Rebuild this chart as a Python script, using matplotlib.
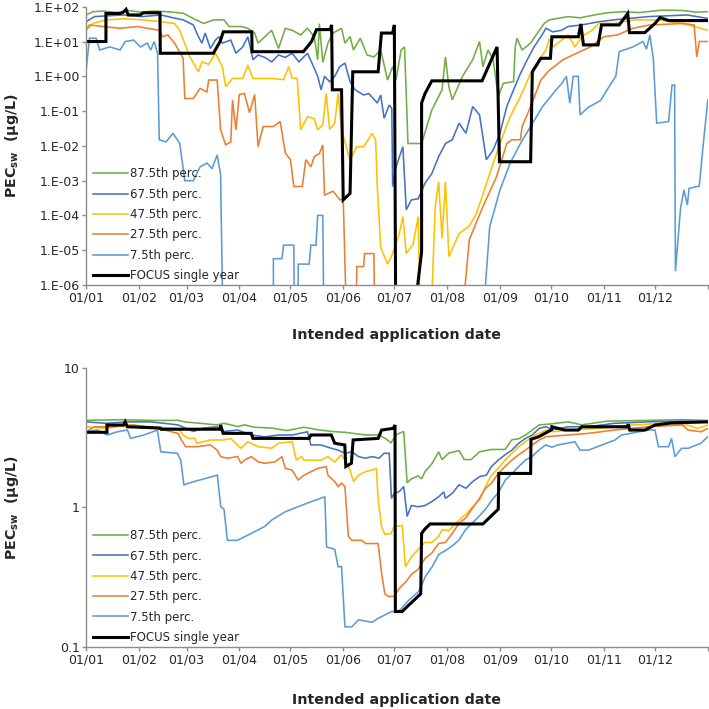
"""
PEC_sw versus intended application date, two log panels
"""

import matplotlib.pyplot as plt
from matplotlib.ticker import FixedLocator, FixedFormatter, NullLocator, FuncFormatter
import numpy as np

# ---------- data: (day of year, PEC_sw in ug/L) ----------
# values below the plotted range are given as 1e-9 (line leaves the axis)
labels = ['87.5th perc.', '67.5th perc.', '47.5th perc.', '27.5th perc.',
          '7.5th perc.', 'FOCUS single year']
colors = ['#70AD47', '#4472C4', '#FFC000', '#ED7D31', '#5B9BD5', 'black']

month_starts = [0, 31, 59, 90, 120, 151, 181, 212, 243, 273, 304, 334, 365]
month_labels = ['01/01', '01/02', '01/03', '01/04', '01/05', '01/06',
                '01/07', '01/08', '01/09', '01/10', '01/11', '01/12', '']

# top panel
top_p875 = [(0, 58), (4, 72), (10, 75), (18, 68), (25, 78), (32, 70), (40, 75),
            (48, 72), (57, 65), (63, 46), (69, 33), (75, 42), (81, 42), (84, 27),
            (91, 27), (95, 24), (99, 17.5), (101, 9), (105, 13.7), (109, 21),
            (113, 6.3), (117, 24), (121, 21), (126, 15.5), (130, 24), (134, 13.7),
            (136, 3), (137, 33), (139, 2.5), (142, 9), (145, 17.5), (150, 24),
            (152, 9), (155, 14), (157, 5.7), (161, 12.4), (165, 4.1), (169, 3.6),
            (173, 5.7), (177, 0.78), (180, 1.9), (182, 0.8), (185, 5.7), (187, 7),
            (189, 0.0117), (197, 0.0117), (203, 0.107), (209, 0.41), (211, 3.6),
            (213, 0.5), (215, 0.21), (221, 1), (227, 3), (231, 10), (233, 1.9),
            (236, 5.7), (239, 3), (242, 0.26), (245, 0.63), (251, 0.7), (252, 7),
            (253, 12.4), (256, 5.7), (261, 9), (265, 17.5), (269, 33), (272, 42),
            (283, 52), (290, 48), (300, 60), (306, 67), (315, 72), (325, 68),
            (338, 80), (350, 78), (358, 70), (365, 72)]
top_p675 = [(0, 37), (5, 52), (13, 55), (22, 58), (33, 52), (44, 58), (52, 47),
            (57, 42), (63, 30), (66, 13.7), (68, 9), (70, 17.5), (73, 6.3), (76, 11),
            (78, 13.7), (80, 9), (85, 11), (88, 4.6), (92, 7), (95, 13.7), (98, 3),
            (101, 4.1), (105, 3.5), (109, 2.6), (113, 4.1), (117, 3.5), (121, 4.6),
            (125, 2.6), (130, 4.6), (133, 2.2), (136, 1), (138, 0.41), (140, 1),
            (143, 0.7), (146, 1), (149, 1.9), (152, 2.4), (155, 0.7), (158, 0.41),
            (163, 0.29), (166, 0.32), (171, 0.17), (173, 0.29), (175, 0.062),
            (178, 0.15), (179.5, 0.12), (180, 6.8e-4), (182, 2.5e-3), (186, 9.5e-3),
            (188, 1.45e-4), (191, 2.8e-4), (195, 3e-4), (199, 8.5e-4), (203, 1.6e-3),
            (207, 4.9e-3), (211, 0.0117), (215, 0.015), (219, 0.045), (223, 0.023),
            (227, 0.135), (231, 0.078), (235, 4e-3), (239, 7.6e-3), (243, 0.023),
            (247, 0.135), (251, 0.41), (255, 1.2), (259, 3), (263, 7), (267, 13.7),
            (270, 24), (274, 19), (279, 21), (283, 27), (291, 30), (301, 37),
            (310, 42), (330, 52), (353, 58), (365, 46)]
top_p475 = [(0, 21), (4, 33), (12, 42), (22, 45), (33, 42), (44, 37), (52, 33),
            (55, 21), (61, 3.6), (66, 1.35), (68, 2.6), (72, 2.2), (76, 4.6),
            (80, 1.9), (82, 0.5), (86, 0.87), (92, 0.87), (95, 2.1), (98, 0.87),
            (109, 0.87), (116, 0.8), (119, 1.9), (121, 0.87), (124, 0.87),
            (126, 0.029), (130, 0.069), (134, 0.06), (136, 0.029), (139, 0.04),
            (141, 0.32), (143, 0.03), (146, 0.045), (148, 0.32), (150, 0.029),
            (155, 4e-3), (159, 9.5e-3), (163, 0.0095), (168, 0.023), (170, 0.015),
            (171, 6.8e-4), (173, 1.2e-5), (177, 4e-6), (180, 8e-6), (184, 3.1e-5),
            (186, 9.3e-5), (188, 8e-6), (192, 1.5e-5), (195, 9.3e-5), (197, 1e-9),
            (201, 1e-9), (205, 1.8e-4), (207, 9.3e-4), (209, 2.2e-5), (211, 9.3e-4),
            (213, 6.6e-6), (219, 3e-5), (225, 5e-5), (229, 1.1e-4), (233, 4e-4),
            (237, 1.6e-3), (243, 0.0117), (249, 0.069), (255, 0.26), (261, 1.2),
            (266, 3), (270, 5.7), (272, 12), (274, 7), (277, 9), (283, 15.5),
            (287, 7), (291, 13.7), (297, 21), (301, 33), (310, 33), (322, 42),
            (336, 42), (350, 33), (357, 27), (365, 21)]
top_p275 = [(0, 21), (2, 30), (10, 27), (20, 24), (30, 27), (43, 21), (45, 13.7),
            (48, 15.5), (52, 9), (57, 3.3), (58, 0.23), (63, 0.23), (67, 0.45),
            (71, 0.35), (72, 0.78), (77, 0.78), (79, 0.029), (82, 0.0107),
            (85, 0.013), (86, 0.21), (88, 0.029), (90, 0.3), (93, 0.32), (96, 0.09),
            (99, 0.3), (101, 9.5e-3), (104, 0.036), (110, 0.036), (114, 0.05),
            (117, 6.2e-3), (120, 4e-3), (122, 6.8e-4), (127, 6.8e-4), (129, 4e-3),
            (132, 2.5e-3), (134, 4.9e-3), (137, 6e-3), (139, 0.0107), (140, 3.8e-4),
            (145, 5e-4), (149, 2.8e-4), (151, 3e-4), (154, 1e-9), (158, 1e-9),
            (159, 3.4e-6), (163, 3.4e-6), (163.5, 8e-6), (169, 8e-6), (170, 1e-9),
            (217, 1e-9), (225, 2e-5), (233, 1.8e-4), (241, 1.3e-3), (247, 0.0117),
            (250, 0.015), (255, 0.015), (256, 0.036), (261, 0.135), (267, 0.78),
            (272, 1.5), (276, 2.1), (280, 3), (288, 4.6), (296, 7), (304, 13.7),
            (312, 15.5), (321, 24), (331, 30), (351, 33), (357, 30), (358.5, 3.6),
            (360, 10), (365, 10)]
top_p75 = [(0, 1.35), (2, 12.4), (6, 12.4), (8, 5.7), (14, 7), (20, 5.7), (23, 10),
           (28, 11), (32, 7), (36, 9), (38, 5.7), (40, 10), (42, 4.6), (43, 0.015),
           (47, 0.013), (51, 0.023), (55, 0.012), (58, 1e-3), (63, 1e-3),
           (67, 2.5e-3), (71, 3.2e-3), (74, 2.2e-3), (77, 5.5e-3), (79, 1.5e-3),
           (81, 1e-9), (110, 1e-9), (110, 5.7e-6), (115, 5.7e-6), (116, 1.4e-5),
           (122, 1.4e-5), (122.6, 1e-9), (124, 1e-9), (124.6, 4e-6), (131, 4e-6),
           (132, 1.4e-5), (135, 1.4e-5), (136, 1e-4), (139, 1e-4), (140, 1e-9),
           (230, 1e-9), (237, 4.8e-5), (243, 5.4e-4), (249, 3.2e-3), (255, 0.0117),
           (261, 0.036), (268, 0.135), (276, 0.41), (279, 0.6), (282, 1),
           (284, 0.17), (286, 1), (289, 1), (290, 0.078), (295, 0.13), (302, 0.2),
           (307, 0.5), (311, 1), (313, 5.1), (321, 7), (327, 10), (329, 6),
           (331, 15.5), (333, 3.3), (335, 0.045), (342, 0.05), (344, 0.56),
           (345.5, 0.56), (346, 2.5e-6), (349, 1.6e-4), (351, 5.4e-4), (353, 2e-4),
           (354, 6e-4), (360, 7e-4), (362, 7.6e-3), (365, 0.21)]
top_focus = [(0, 10), (11.7, 10), (11.7, 64), (20, 64), (22, 70), (23.5, 84),
             (24.8, 58), (31.7, 58), (33.7, 67), (43.4, 67), (43.6, 4.6), (74.8, 4.6),
             (78.7, 10), (80.6, 19), (97.3, 19), (97.5, 5.1), (127.6, 5.1),
             (132.4, 10), (135.3, 22), (143.3, 22), (144.2, 30), (144.6, 0.41),
             (150, 0.41), (151, 2.8e-4), (155, 4.3e-4), (156.6, 1.35), (171.5, 1.35),
             (173.4, 17.5), (180, 17.5), (181, 30), (182, 1e-9), (187.5, 1e-9),
             (197, 9e-6), (197, 0.17), (199, 0.32), (203, 0.74), (232.5, 0.74),
             (241.3, 7), (242.7, 3.5e-3), (261, 3.5e-3), (262, 1.35), (267, 3.3),
             (272.6, 3.3), (273.5, 13.7), (289, 13.7), (290.5, 32), (292, 8),
             (300.6, 8), (302.6, 30), (313, 30), (318, 64), (319, 18), (328, 18),
             (334, 33), (337, 49), (342, 40), (365, 40)]

# bottom panel
bot_p875 = [(0, 4.2), (20, 4.25), (40, 4.2), (54, 4.2), (58, 4.1), (67, 4.0),
            (77, 3.9), (81, 4.0), (89, 3.8), (93, 3.9), (99, 3.75), (109, 3.7),
            (118, 3.55), (128, 3.75), (136, 3.6), (144, 3.5), (152, 3.45), (156, 3.4),
            (164, 3.3), (172, 3.3), (176, 3.1), (179, 2.9), (182, 3.3), (184, 3.4),
            (186.5, 3.5), (188.5, 1.5), (191, 1.6), (195, 1.68), (197, 1.6),
            (199, 1.8), (203, 2.05), (207, 2.5), (209, 2.2), (213, 2.45), (219, 2.55),
            (222, 2.2), (226, 2.2), (231, 2.5), (238, 2.6), (246, 2.6), (250, 3.05),
            (254, 3.1), (258, 3.3), (266, 3.9), (272, 3.95), (283, 4.1), (291, 3.9),
            (306, 4.15), (330, 4.2), (350, 4.25), (365, 4.2)]
bot_p675 = [(0, 4.1), (12, 4.0), (24, 4.1), (38, 4.1), (54, 3.9), (63, 3.5),
            (69, 3.7), (77, 3.78), (81, 3.5), (89, 3.58), (97, 3.3), (105, 3.2),
            (113, 3.3), (121, 3.3), (130, 3.48), (132, 2.8), (138, 2.8), (144, 2.65),
            (148, 2.57), (152, 2.44), (156, 2.5), (160, 2.31), (164, 2.25),
            (168, 2.31), (172, 2.25), (175, 2.44), (178, 2.44), (179.3, 1.16),
            (181, 1.26), (184, 1.3), (186.5, 1.41), (188.5, 0.86), (191, 1.03),
            (195, 1.01), (199, 1.03), (203, 1.1), (207, 1.19), (210, 1.29),
            (211, 1.16), (215, 1.26), (219, 1.45), (223, 1.37), (227, 1.53),
            (231, 1.66), (235, 1.7), (238, 1.96), (242, 2.18), (246, 2.38),
            (250, 2.57), (254, 2.88), (258, 3.12), (262, 3.3), (266, 3.68),
            (270, 3.78), (274, 3.6), (283, 3.78), (295, 3.78), (310, 4.0),
            (330, 4.1), (350, 4.15), (365, 4.1)]
bot_p475 = [(0, 3.78), (12, 3.68), (24, 3.9), (38, 3.78), (54, 3.68), (57, 3.3),
            (60, 3.12), (64, 3.12), (65, 2.88), (73, 3.04), (81, 3.04), (85, 3.12),
            (91, 2.65), (95, 2.95), (101, 2.72), (109, 2.65), (113, 2.88),
            (121, 2.95), (123.5, 2.18), (126.5, 2.31), (128, 2.18), (138, 2.18),
            (142, 2.31), (146, 2.12), (150, 2.38), (152, 2.18), (155, 1.85),
            (157, 1.53), (160, 1.7), (164, 1.8), (168, 1.85), (170.5, 1.9),
            (171.5, 1.13), (173.5, 0.73), (175.4, 0.64), (179, 0.65), (181, 0.73),
            (185.6, 0.74), (187.5, 0.375), (191, 0.44), (195, 0.5), (199, 0.56),
            (203, 0.56), (207, 0.62), (209, 0.69), (213, 0.68), (219, 0.81),
            (223, 0.89), (227, 1.01), (231, 1.13), (234.5, 1.41), (238, 1.7),
            (242, 1.9), (246, 2.18), (250, 2.44), (254, 2.72), (258, 2.95),
            (262, 3.21), (266, 3.39), (270, 3.58), (274, 3.48), (283, 3.58),
            (301, 3.68), (320, 3.89), (340, 4.0), (353, 3.89), (359, 3.68),
            (365, 3.89)]
bot_p275 = [(0, 3.48), (5, 3.78), (15, 3.78), (28, 3.89), (42, 3.68), (54, 3.39),
            (56, 3.04), (58.5, 2.72), (65, 2.72), (73, 2.8), (77, 2.57), (79, 2.31),
            (83, 2.25), (89, 2.31), (91, 2.07), (93, 2.18), (97, 2.31), (101, 2.12),
            (105, 2.07), (111, 2.12), (115, 2.31), (117, 1.9), (121, 1.85),
            (124.5, 1.57), (128, 1.7), (132, 1.8), (136, 1.9), (141, 1.96),
            (142, 1.7), (146, 1.53), (148, 1.41), (150, 1.49), (152, 1.41),
            (154, 0.62), (156, 0.58), (162, 0.58), (164, 0.55), (171.5, 0.55),
            (173.5, 0.336), (175.4, 0.24), (177.4, 0.23), (181, 0.23), (183.6, 0.26),
            (187.5, 0.29), (191, 0.33), (195, 0.36), (199, 0.43), (203, 0.47),
            (207, 0.55), (211, 0.56), (215, 0.65), (219, 0.77), (223, 0.84),
            (227, 0.99), (231, 1.16), (234.5, 1.37), (238, 1.49), (242, 1.75),
            (246, 1.96), (250, 2.18), (254, 2.38), (258, 2.57), (262, 2.8),
            (266, 3.04), (270, 3.21), (283, 3.3), (295, 3.39), (310, 3.58),
            (330, 3.78), (350, 3.89), (353.5, 3.58), (361, 3.48), (365, 3.68)]
bot_p75 = [(0, 3.48), (6.6, 3.58), (12.5, 3.3), (18.4, 3.48), (24.3, 3.58),
           (26.2, 3.12), (34, 3.3), (41.9, 3.58), (43.9, 2.5), (53.6, 2.44),
           (55.6, 2.18), (57.5, 1.45), (63.4, 1.53), (69.3, 1.6), (77.1, 1.7),
           (79.1, 1.01), (81, 0.97), (83, 0.58), (88.8, 0.58), (97, 0.65),
           (105, 0.73), (109, 0.81), (117, 0.93), (124.5, 1.01), (132.4, 1.1),
           (140.2, 1.19), (141.2, 0.52), (146, 0.5), (148, 0.375), (150, 0.375),
           (152, 0.139), (156, 0.139), (160, 0.156), (168, 0.15), (171.5, 0.16),
           (179.3, 0.179), (183.6, 0.18), (189.5, 0.216), (195.4, 0.25),
           (199.3, 0.32), (203.2, 0.375), (207.1, 0.46), (211, 0.49), (215, 0.53),
           (218.8, 0.58), (222.8, 0.69), (226.7, 0.77), (230.6, 0.86), (234.5, 0.97),
           (238.4, 1.13), (242.3, 1.29), (246.2, 1.57), (250.2, 1.75), (254, 1.96),
           (257.9, 2.18), (261.8, 2.31), (265.8, 2.57), (269.7, 2.8), (273.6, 2.7),
           (277, 2.8), (287, 2.95), (290, 2.57), (295, 2.57), (310.5, 3.04),
           (314.4, 3.3), (330, 3.58), (334, 3.58), (336, 2.72), (342, 2.72),
           (343.7, 3.12), (345.7, 2.31), (349.6, 2.65), (353.5, 2.65), (361, 2.88),
           (365, 3.21)]
bot_focus = [(0, 3.45), (12.3, 3.45), (12.3, 3.89), (22, 3.89), (23, 4.1),
             (24.3, 3.78), (43.5, 3.7), (44, 3.63), (78.7, 3.63), (79, 3.89),
             (80.5, 3.39), (97, 3.39), (98, 3.12), (131, 3.12), (132, 3.3), (144, 3.3),
             (146, 2.88), (151.9, 2.8), (152.5, 1.96), (155.8, 2.07), (156.8, 3.04),
             (171.5, 3.12), (173.5, 3.58), (180.3, 3.68), (181.4, 3.89), (181.6, 0.179),
             (185.5, 0.179), (196.5, 0.24), (197, 0.65), (199, 0.7), (202, 0.76),
             (233, 0.76), (242, 0.97), (242.3, 1.75), (261, 1.75), (261.2, 3.07),
             (265.8, 3.21), (273.3, 3.6), (273.5, 3.78), (281, 3.58), (289, 3.58),
             (291, 3.78), (318, 3.78), (318.3, 3.95), (319.2, 3.58), (328, 3.58),
             (334, 3.89), (343.7, 4.03), (365, 4.1)]

top_series = [top_p875, top_p675, top_p475, top_p275, top_p75, top_focus]
bot_series = [bot_p875, bot_p675, bot_p475, bot_p275, bot_p75, bot_focus]

plt.rcParams['font.family'] = 'DejaVu Sans'
axis_grey = '#8C8C8C'
text_col = '#262626'

fig = plt.figure(figsize=(7.09, 7.09), dpi=100)
ax_top = fig.add_axes([0.1213, 0.598, 0.877, 0.3925])
ax_bot = fig.add_axes([0.1213, 0.0877, 0.877, 0.3935])


def draw_panel(ax, series, ylim):
    handles = []
    for data, lab, col in zip(series, labels, colors):
        days, vals = zip(*data)
        lw = 2.2 if col == 'black' else 1.15
        h, = ax.plot(days, vals, color=col, lw=lw, label=lab,
                     solid_joinstyle='miter')
        handles.append(h)
    ax.set_yscale('log')
    ax.set_xlim(0, 365)
    ax.set_ylim(*ylim)
    for s in ['top', 'right']:
        ax.spines[s].set_visible(False)
    for s in ['left', 'bottom']:
        ax.spines[s].set_color(axis_grey)
        ax.spines[s].set_linewidth(1.0)
    ax.xaxis.set_major_locator(FixedLocator(month_starts))
    ax.xaxis.set_major_formatter(FixedFormatter(month_labels))
    ax.yaxis.set_minor_locator(NullLocator())
    ax.tick_params(axis='both', which='major', direction='out', length=3,
                   width=1.0, color=axis_grey, labelsize=9, labelcolor=text_col)
    ax.tick_params(axis='x', pad=2)
    ax.tick_params(axis='y', pad=1.5)
    ax.set_xlabel('Intended application date', fontsize=10.3,
                  fontweight='bold', color=text_col)
    ax.set_ylabel(r'PEC$_{\mathbf{sw}}$  (µg/L)', fontsize=10.3,
                  fontweight='bold', color=text_col)
    ax.yaxis.set_label_coords(-0.104, 0.5)
    ax.legend(handles=handles, loc='lower left', bbox_to_anchor=(0.006, 0.0),
              frameon=False, fontsize=8.5, handlelength=3.0, handletextpad=0.15,
              labelspacing=0.62, borderpad=0.2, borderaxespad=0.05,
              labelcolor=text_col)


draw_panel(ax_top, top_series, (1e-6, 1e2))
ax_top.yaxis.set_major_locator(FixedLocator([10.0 ** k for k in range(-6, 3)]))
ax_top.yaxis.set_major_formatter(
    FuncFormatter(lambda v, pos: '1.E{:+03d}'.format(int(round(np.log10(v))))))
ax_top.xaxis.set_label_coords(0.5, -0.156)

draw_panel(ax_bot, bot_series, (0.1, 10))
ax_bot.yaxis.set_major_locator(FixedLocator([0.1, 1, 10]))
ax_bot.yaxis.set_major_formatter(FixedFormatter(['0.1', '1', '10']))
ax_bot.xaxis.set_label_coords(0.5, -0.164)

plt.savefig('out.png', dpi=100, facecolor='white')
plt.close()
